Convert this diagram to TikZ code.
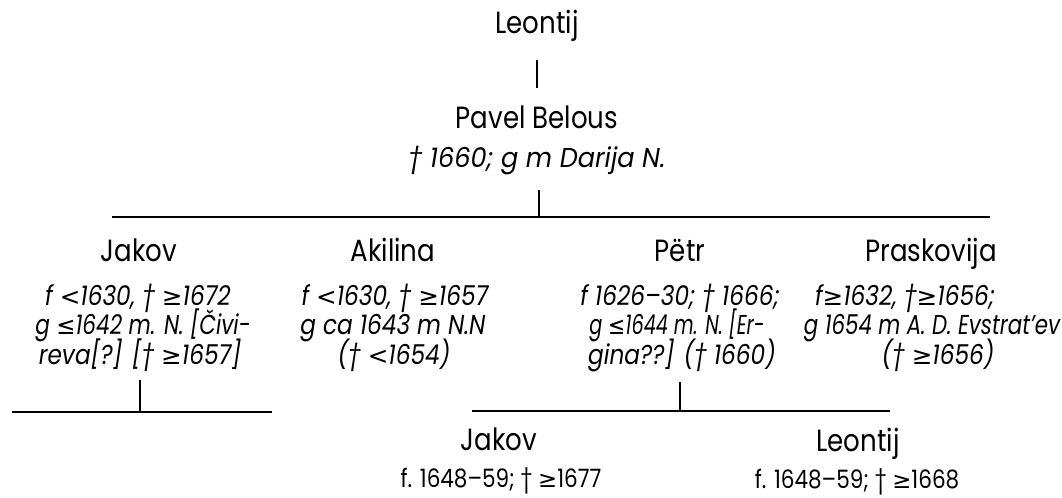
\documentclass[tikz,border=0pt]{standalone}
\usepackage{graphicx}
\usepackage{fontspec}
\setmainfont{Poppins}[FakeStretch=0.85]
\newfontfamily\symf{DejaVu Sans}[Scale=0.9]
\newcommand{\myge}{{\symf ≥}}
\newcommand{\myle}{{\symf ≤}}
\newcommand{\mylt}{{\symf <}}
\newcommand{\hsq}[2]{\scalebox{#1}[1]{#2}}
\begin{document}
\begin{tikzpicture}[x=0.75pt,y=-0.75pt,
  person/.style={font=\fontsize{23}{26}\selectfont, inner sep=0pt, anchor=base},
  infoline/.style={font=\fontsize{20.5}{22}\selectfont\itshape, inner sep=0pt, anchor=base},
  infoup/.style={font=\fontsize{19}{22}\selectfont, inner sep=0pt, anchor=base},
  line/.style={line width=1.7pt}]
\useasboundingbox (0,0) rectangle (1062,497);
% generation 1
\node[person] (L0) at (537,33) {Leontij};
\node[person] (PB) at (537,128) {Pavel Belous};
\node[infoline] (PBi) at (537,167) {\hsq{1.1}{† 1660; g m Darija N.}};
\coordinate (c0a) at (537,60);
\coordinate (c0b) at (537,88);
\draw[line] (c0a) -- (c0b);
\coordinate (c1a) at (539,190);
\coordinate (c1b) at (539,217);
\draw[line] (c1a) -- (c1b);
\coordinate (barL) at (112,217);
\coordinate (barR) at (990,217);
\draw[line] (barL) -- (barR);
% generation 3
\node[person] (J1) at (139,261) {Jakov};
\node[infoline] (J1a) at (138,305) {f \mylt1630, † \myge1672};
\node[infoline] (J1b) at (143,334) {\hsq{0.93}{g \myle1642 m. N. [Čivi-}};
\node[infoline] (J1c) at (140,364) {reva[?] [† \myge1657]};
\node[person] (A1) at (393,261) {Akilina};
\node[infoline] (A1a) at (395,305) {f \mylt1630, † \myge1657};
\node[infoline] (A1b) at (393,334) {g ca 1643 m N.N};
\node[infoline] (A1c) at (394,364) {(† \mylt1654)};
\node[person] (P1) at (680,261) {Pëtr};
\node[infoline] (P1a) at (680,305) {f 1626–30; † 1666;};
\node[infoline] (P1b) at (677,334) {\hsq{0.83}{g \myle1644 m. N. [Er-}};
\node[infoline] (P1c) at (682,364) {gina??] († 1660)};
\node[person] (S1) at (931,261) {Praskovija};
\node[infoline] (S1a) at (905,305) {f\myge1632, †\myge1656;};
\node[infoline] (S1b) at (932,334) {\hsq{0.92}{g 1654 m A. D. Evstrat’ev}};
\node[infoline] (S1c) at (938,364) {(† \myge 1656)};
% Jakov's line
\coordinate (j1a) at (140,380);
\coordinate (j1b) at (140,412);
\draw[line] (j1a) -- (j1b);
\coordinate (jbL) at (12,412);
\coordinate (jbR) at (272,412);
\draw[line] (jbL) -- (jbR);
% Petr's line
\coordinate (p1a) at (680,382);
\coordinate (p1b) at (680,411);
\draw[line] (p1a) -- (p1b);
\coordinate (pbL) at (472,411);
\coordinate (pbR) at (890,411);
\draw[line] (pbL) -- (pbR);
% generation 4
\node[person] (J2) at (499,450) {Jakov};
\node[infoup] (J2i) at (501,487) {f. 1648–59; † \myge1677};
\node[person] (L2) at (858,451) {Leontij};
\node[infoup] (L2i) at (857,488) {f. 1648–59; † \myge1668};
\end{tikzpicture}
\end{document}
